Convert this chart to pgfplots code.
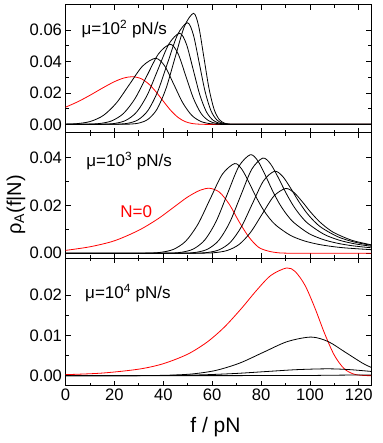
\documentclass[border=0pt]{standalone}
\usepackage{fontspec}
\setmainfont{Liberation Sans}
\usepackage{pgfplots}
\pgfplotsset{compat=1.18}

\pgfplotsset{
  panel/.style={
    scale only axis, width=305.5pt, anchor=south west,
    xmin=0, xmax=125,
    xtick={0,20,...,120}, minor x tick num=1,
    minor y tick num=1,
    tick align=inside,
    major tick length=5pt, minor tick length=3pt,
    every tick/.style={black, line width=0.8pt},
    axis line style={line width=1pt},
    tick label style={font=\fontsize{16.6pt}{19pt}\selectfont},
    scaled y ticks=false,
    /pgf/number format/assume math mode=true,
    yticklabel style={/pgf/number format/fixed,
      /pgf/number format/fixed zerofill, /pgf/number format/precision=2},
  },
  blk/.style={black, line width=0.8pt, smooth},
  rd/.style={red, line width=0.8pt, smooth},
}
\newcommand{\lbl}{\fontsize{17pt}{20pt}\selectfont}

\begin{document}
\begin{tikzpicture}
%% top panel, mu = 10^2
\begin{axis}[panel, at={(65.5pt,310.3pt)}, height=127.7pt,
  ymin=-0.0053, ymax=0.0759, ytick={0,0.02,0.04,0.06}, xticklabels={}]
\addplot[rd] coordinates {(0,0.0109)(5,0.01435)(10,0.01848)(15,0.02296)(20,0.02713)(24,0.02952)(27.5,0.0303)(31,0.02902)(34,0.02577)(37,0.02076)(40,0.01477)(43,0.00898)(46,0.00447)(49,0.00173)(52,0.00048)(55,0.00009)(58,0.00001)(62,0)(125,0)};
\addplot[blk] coordinates {(0,0.0001)(4.8,0.00047)(10.15,0.00184)(15.5,0.00568)(20.85,0.01364)(26.2,0.02547)(31.55,0.03707)(36.9,0.042)(40.6,0.03707)(44.3,0.02547)(48,0.01364)(51.7,0.00568)(55.4,0.00184)(59.1,0.00047)(62.8,0.00009)(66,0)(125,0)};
\addplot[blk] coordinates {(0,0)(4.5,0.00002)(9.3,0.00011)(14.1,0.00057)(18.9,0.00223)(23.7,0.00689)(28.5,0.01653)(33.3,0.03087)(38.1,0.04492)(42.9,0.0509)(46.05,0.04492)(49.2,0.03087)(52.35,0.01653)(55.5,0.00689)(58.65,0.00223)(61.8,0.00057)(64.95,0.00011)(68,0)(125,0)};
\addplot[blk] coordinates {(0,0)(11.5,0.00002)(15.9,0.00013)(20.3,0.00064)(24.7,0.00254)(29.1,0.00783)(33.5,0.0188)(37.9,0.03512)(42.3,0.0511)(46.7,0.0579)(49.45,0.0511)(52.2,0.03512)(54.95,0.0188)(57.7,0.00783)(60.45,0.00254)(63.2,0.00064)(65.95,0.00013)(69,0)(125,0)};
\addplot[blk] coordinates {(0,0)(17.5,0.00002)(21.55,0.00014)(25.6,0.00072)(29.65,0.00284)(33.7,0.00874)(37.75,0.02098)(41.8,0.03918)(45.85,0.05701)(49.9,0.0646)(52.3,0.05701)(54.7,0.03918)(57.1,0.02098)(59.5,0.00874)(61.9,0.00284)(64.3,0.00072)(66.7,0.00014)(70,0)(125,0)};
\addplot[blk] coordinates {(0,0)(22.4,0.00002)(26.15,0.00016)(29.9,0.00078)(33.65,0.0031)(37.4,0.00955)(41.15,0.02292)(44.9,0.04282)(48.65,0.0623)(52.4,0.0706)(54.5,0.0623)(56.6,0.04282)(58.7,0.02292)(60.8,0.00955)(62.9,0.0031)(65,0.00078)(67.1,0.00016)(70,0)(125,0)};
\node[anchor=base west, font=\lbl] at (rel axis cs:0.041,0.765) {μ=10\textsuperscript{2} pN/s};
\end{axis}

%% middle panel, mu = 10^3
\begin{axis}[panel, at={(65.5pt,184.7pt)}, height=125.6pt,
  ymin=-0.0021, ymax=0.0503, ytick={0,0.02,0.04}, xticklabels={}]
\addplot[rd] coordinates {(0,0.0012)(10,0.0027)(20,0.0052)(30,0.0096)(38,0.01449)(45,0.01976)(50,0.02348)(55,0.02627)(59,0.0271)(63,0.02547)(67,0.02046)(71,0.01321)(75,0.0068)(79,0.0025)(83,0.0009)(87,0.0002)(91,0.00003)(96,0)(125,0)};
\addplot[blk] coordinates {(0,0)(25,0)(34.2,0.00008)(39.2,0.00042)(44.2,0.00164)(49.2,0.00506)(54.2,0.01214)(59.2,0.02268)(64.2,0.033)(69.2,0.0374)(72.05,0.0352)(74.9,0.02992)(77.75,0.02394)(80.6,0.0187)(83.45,0.01459)(86.3,0.01151)(92,0.00748)(97.7,0.00516)(103.4,0.00374)(109.1,0.00282)(114.8,0.0022)(125,0.0015)};
\addplot[blk] coordinates {(0,0)(30,0)(43.05,0.00009)(47.7,0.00046)(52.35,0.0018)(57,0.00556)(61.65,0.01335)(66.3,0.02493)(70.95,0.03627)(75.6,0.0411)(78.6,0.03868)(81.6,0.03288)(84.6,0.0263)(87.6,0.02055)(90.6,0.01604)(93.6,0.01265)(99.6,0.00822)(105.6,0.00567)(111.6,0.00411)(117.6,0.0031)(125,0.00229)};
\addplot[blk] coordinates {(0,0)(35,0)(49.2,0.00009)(53.7,0.00044)(58.2,0.00174)(62.7,0.00537)(67.2,0.01289)(71.7,0.02408)(76.2,0.03504)(80.7,0.0397)(83.825,0.03737)(86.95,0.03176)(90.075,0.02541)(93.2,0.01985)(96.325,0.01549)(99.45,0.01222)(105.7,0.00794)(111.95,0.00547)(118.2,0.00397)(125,0.00293)};
\addplot[blk] coordinates {(0,0)(40,0)(54,0.00008)(58.5,0.00038)(63,0.0015)(67.5,0.00463)(72,0.0111)(76.5,0.02074)(81,0.03018)(85.5,0.0342)(88.75,0.03219)(92,0.02736)(95.25,0.02189)(98.5,0.0171)(101.75,0.01334)(105,0.01052)(111.5,0.00684)(118,0.00472)(125,0.00334)};
\addplot[blk] coordinates {(0,0)(45,0)(56.75,0.00006)(61.5,0.0003)(66.25,0.00119)(71,0.00365)(75.75,0.00877)(80.5,0.01638)(85.25,0.02383)(90,0.027)(93.4,0.02541)(96.8,0.0216)(100.2,0.01728)(103.6,0.0135)(107,0.01054)(110.4,0.00831)(117.2,0.0054)(125,0.00354)};
\node[anchor=base west, font=\lbl] at (rel axis cs:0.057,0.729) {μ=10\textsuperscript{3} pN/s};
\node[anchor=base west, font=\lbl, text=red] at (rel axis cs:0.168,0.326) {N=0};
\end{axis}

%% bottom panel, mu = 10^4
\begin{axis}[panel, at={(65.5pt,57.3pt)}, height=127.4pt,
  ymin=-0.0025, ymax=0.0292, ytick={0,0.01,0.02}]
\addplot[rd] coordinates {(0,0.00025)(15,0.00064)(30,0.00162)(40,0.00297)(50,0.00535)(58,0.00838)(65,0.01208)(72,0.01673)(78,0.0211)(84,0.02493)(90.5,0.0268)(94,0.02589)(98,0.02247)(102,0.01691)(106,0.01052)(110,0.00507)(114,0.00174)(118,0.00038)(122,0.00005)(125,0)};
\addplot[blk] coordinates {(0,0)(22.5,0)(32.25,0.00002)(42,0.00011)(51.75,0.00042)(61.5,0.0013)(71.25,0.00312)(81,0.00582)(90.75,0.00847)(100.5,0.0096)(107.5,0.00847)(114.5,0.00582)(121.5,0.00312)(125,0.00208)};
\addplot[blk] coordinates {(0,0)(20,0)(32.3,0.00002)(44.8,0.00007)(57.3,0.00023)(69.8,0.00055)(82.3,0.00103)(94.8,0.0015)(107.3,0.0017)(116.3,0.0015)(125,0.00105)};
\addplot[blk] coordinates {(0,0)(90,0.00002)(105,0.00008)(115,0.00014)(125,0.00014)};
\node[anchor=base west, font=\lbl] at (rel axis cs:0.053,0.686) {μ=10\textsuperscript{4} pN/s};
\end{axis}

\node[rotate=90, font=\fontsize{20pt}{24pt}\selectfont] at (16pt,238pt) {ρ\textsubscript{A}(f|N)};
\node[anchor=base, font=\fontsize{21pt}{24pt}\selectfont] at (215.5pt,10pt) {f / pN};

\pgfresetboundingbox
\path[use as bounding box] (0,0) rectangle (382pt,443pt);
\end{tikzpicture}
\end{document}
